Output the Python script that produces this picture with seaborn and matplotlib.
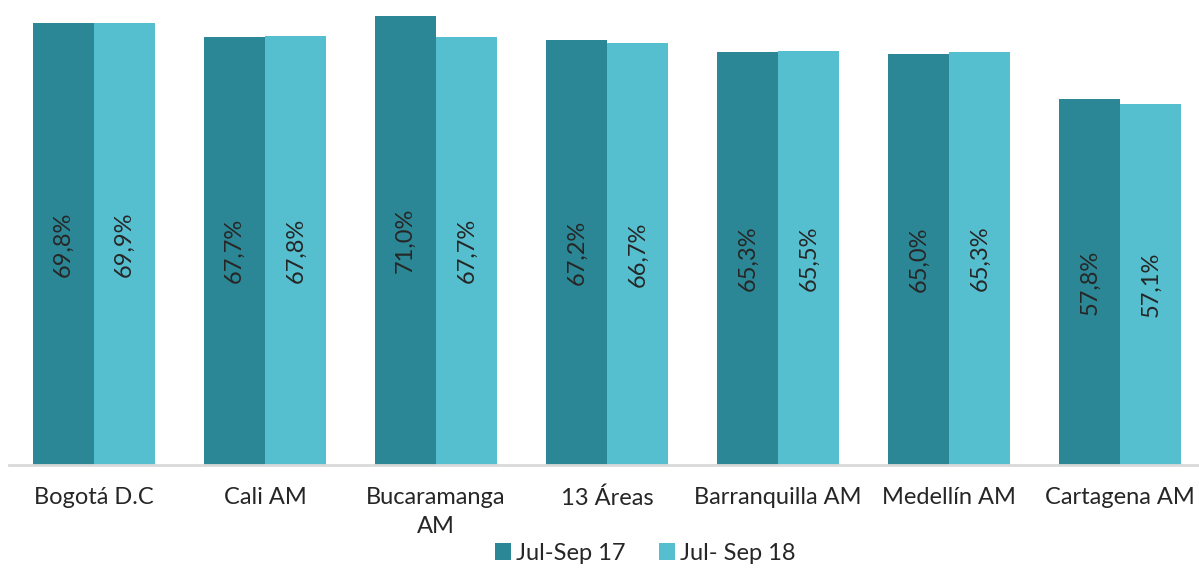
import seaborn as sns
import matplotlib.pyplot as plt
import pandas as pd

sns.set_theme(style="white")
plt.rcParams['font.family'] = ['Lato', 'DejaVu Sans']

# data
cities = ['Bogotá D.C', 'Cali AM', 'Bucaramanga\nAM', '13 Áreas',
          'Barranquilla AM', 'Medellín AM', 'Cartagena AM']
periods = ['Jul-Sep 17', 'Jul- Sep 18']
vals_17 = [69.8, 67.7, 71.0, 67.2, 65.3, 65.0, 57.8]
vals_18 = [69.9, 67.8, 67.7, 66.7, 65.5, 65.3, 57.1]

df = pd.DataFrame({
    'city': cities * 2,
    'period': [periods[0]] * len(cities) + [periods[1]] * len(cities),
    'value': vals_17 + vals_18,
})

colors = ['#2B8795', '#55BECF']

fig = plt.figure(figsize=(11.99, 5.68), dpi=100)
ax = fig.add_axes([8.5 / 1199, (568 - 465) / 568, 1 - 8.5 / 1199, 465 / 568])

sns.barplot(data=df, x='city', y='value', hue='period', palette=colors,
            width=0.714, gap=0, saturation=1, errorbar=None, linewidth=0,
            ax=ax)

# rotated value labels in the middle of each bar
for cont, vals in zip(ax.containers, [vals_17, vals_18]):
    ax.bar_label(cont, labels=[f"{v:.1f}%".replace('.', ',') for v in vals],
                 label_type='center', rotation=90, fontsize=17,
                 color='#262626')

ax.set_ylim(0, 73.5)
ax.set_xlim(-0.5, 6.46)
ax.set_xlabel('')
ax.set_ylabel('')
ax.set_yticks([])
ax.tick_params(axis='x', length=0, pad=16, labelsize=17, labelcolor='#262626')
for lbl in ax.get_xticklabels():
    lbl.set_linespacing(1.45)
for s in ['top', 'right', 'left']:
    ax.spines[s].set_visible(False)
ax.spines['bottom'].set_color('#D9D9D9')
ax.spines['bottom'].set_linewidth(2)

handles, labels = ax.get_legend_handles_labels()
ax.get_legend().remove()
fig.legend(handles, labels, loc='lower center', bbox_to_anchor=(0.538, -0.03),
           ncol=2, frameon=False, fontsize=17, handlelength=0.7,
           handleheight=0.7, handletextpad=0.2, columnspacing=1.4,
           labelcolor='#262626')

plt.savefig('out.png', dpi=100)
